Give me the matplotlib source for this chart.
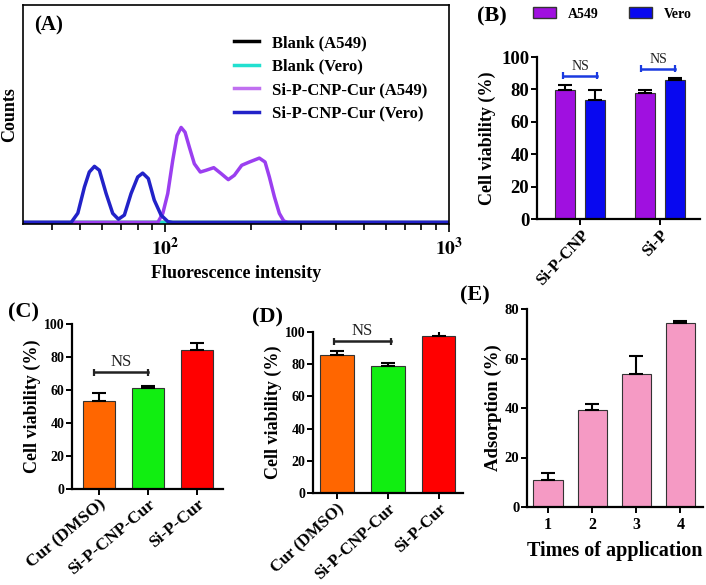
import numpy as np
import matplotlib
matplotlib.use("Agg")
import matplotlib.pyplot as plt
from matplotlib.lines import Line2D
from matplotlib.patches import Patch

plt.rcParams['font.family'] = ['Liberation Serif', 'DejaVu Serif']
plt.rcParams['font.weight'] = 'bold'
plt.rcParams['axes.labelweight'] = 'bold'
plt.rcParams['mathtext.fontset'] = 'stix'

# (A) flow cytometry histograms
vero_x = [31.6, 46.7, 49.3, 52.0, 54.1, 56.4, 58.7, 62.0, 65.4, 68.5, 71.9, 75.9, 80.1,
          83.4, 87.3, 91.6, 96.8, 102.3, 106.4, 1000]
vero_y = [0, 0, 4.3, 16.3, 23.2, 25.8, 24.0, 13.3, 4.2, 1.5, 3.4, 13.3, 20.9,
          22.7, 20.2, 10.3, 3.4, 0.4, 0, 0]
a549_x = [31.6, 94.3, 98.2, 102.2, 106.4, 110.2, 113.9, 117.6, 121.8, 126.8, 133.1, 139.4,
          148.4, 157.5, 167.0, 175.4, 186.2, 198.1, 214.8, 225.0, 233.0, 242.7, 252.6,
          261.8, 270.4, 1000]
a549_y = [0, 0, 4.2, 13.3, 28.5, 40.0, 43.7, 41.5, 34.6, 27.0, 23.2, 24.0,
          25.2, 22.5, 19.7, 21.7, 26.3, 27.8, 29.6, 27.8, 20.9, 11.8, 4.2,
          0.7, 0, 0]
blank_x = [31.6, 1000]
blank_y = [0, 0]

# (B) cell viability, two cell lines
b_groups = ['Si-P-CNP', 'Si-P']
b_a549 = [79.4, 77.7]
b_a549_err = [3.5, 2.1]
b_vero = [73.2, 85.8]
b_vero_err = [6.4, 1.0]

# (C) and (D) cell viability
cd_groups = ['Cur (DMSO)', 'Si-P-CNP-Cur', 'Si-P-Cur']
c_vals = [53.5, 61.2, 84.0]
c_err = [4.7, 1.2, 4.3]
d_vals = [85.7, 78.9, 97.3]
d_err = [2.3, 1.8, 3.7]

# (E) adsorption
e_times = [1, 2, 3, 4]
e_vals = [11.0, 39.1, 53.9, 74.3]
e_err = [2.8, 2.7, 7.1, 1.0]

W, H = 706, 585
fig = plt.figure(figsize=(W / 100, H / 100), dpi=100)


def add_ax(left, top, right, bottom):
    return fig.add_axes([left / W, 1 - bottom / H, (right - left) / W, (bottom - top) / H])


def style_bar_ax(ax, fs=10):
    for s in ['top', 'right']:
        ax.spines[s].set_visible(False)
    for s in ['left', 'bottom']:
        ax.spines[s].set_linewidth(1.6)
    ax.tick_params(width=1.4, length=4, labelsize=fs, pad=1.5)


def up_err(ax, x, vals, errs, color='black'):
    ax.errorbar(x, vals, yerr=[np.zeros(len(vals)), errs], fmt='none',
                ecolor=color, elinewidth=1.5, capsize=5, capthick=1.5, zorder=3)


def ns_bracket(ax, x0, x1, y, color, fs=11):
    ax.errorbar([x0, x1], [y, y], yerr=[[2, 2], [2, 2]], fmt='none', ecolor=color,
                elinewidth=1.6, capsize=0, zorder=4)
    ax.plot([x0, x1], [y, y], color=color, lw=1.8, zorder=4, clip_on=False)
    ax.text((x0 + x1) / 2, y + 1.5, 'NS', ha='center', va='bottom',
            fontsize=fs, fontweight='normal', color='#222222')


# ---- (A)
axA = add_ax(23, 5, 449, 224)
axA.set_xscale('log')
axA.plot(blank_x, blank_y, color='black', lw=2.5)
axA.plot(blank_x, blank_y, color='#22e0d0', lw=2.5)
axA.plot(a549_x, a549_y, color='#9b3ff0', lw=2.5)
axA.plot(vero_x, vero_y, color='#2222c8', lw=2.5)
axA.set_xlim(31.6, 1000)
axA.set_ylim(-0.7, 100)
axA.set_yticks([])
axA.set_xticks([100, 1000])
axA.set_xticklabels([r'$10^2$', r'$10^3$'])
axA.tick_params(axis='x', which='major', length=6, width=1.2, labelsize=14)
axA.tick_params(axis='x', which='minor', length=4, width=1.2)
for s in axA.spines.values():
    s.set_linewidth(1.2)
axA.set_xlabel('Fluorescence intensity', fontsize=13, labelpad=4)
axA.set_ylabel('Counts', fontsize=13)
axA.yaxis.set_label_coords(-0.011, 0.5)
axA.text(0.025, 0.95, '(A)', transform=axA.transAxes, fontsize=15, va='top')
handles = [Line2D([], [], color='black', lw=2.5),
           Line2D([], [], color='#22e0d0', lw=2.5),
           Line2D([], [], color='#c070f0', lw=2.5),
           Line2D([], [], color='#2222c8', lw=2.5)]
labels = ['Blank (A549)', 'Blank (Vero)', 'Si-P-CNP-Cur (A549)', 'Si-P-CNP-Cur (Vero)']
axA.legend(handles, labels, loc='upper left', bbox_to_anchor=(0.46, 0.93), frameon=False,
           fontsize=12, handlelength=1.5, labelspacing=0.45, handletextpad=0.8)

# ---- (B)
axB = add_ax(537, 57, 700, 219)
xb = np.arange(len(b_groups))
off, bw = 0.1875, 0.25
axB.bar(xb - off, b_a549, bw, color='#a010e0', edgecolor='#333333', lw=0.8, zorder=2)
axB.bar(xb + off, b_vero, bw, color='#0808f0', edgecolor='#333333', lw=0.8, zorder=2)
up_err(axB, xb - off, b_a549, b_a549_err)
up_err(axB, xb + off, b_vero, b_vero_err)
axB.set_xlim(-0.54, 1.5)
axB.set_ylim(0, 100)
axB.set_yticks([0, 20, 40, 60, 80, 100])
axB.set_xticks(xb)
axB.set_xticklabels(b_groups, rotation=47, ha='right', rotation_mode='anchor')
style_bar_ax(axB, fs=13.5)
axB.tick_params(axis='x', labelsize=12)
axB.set_ylabel('Cell viability (%)', fontsize=13)
ns_bracket(axB, -0.21, 0.21, 88.5, '#1a3ae0', fs=10)
ns_bracket(axB, 0.76, 1.19, 92.8, '#1a3ae0', fs=10)
fig.text(477 / W, 1 - 16 / H, '(B)', fontsize=16, va='center')
fig.legend([Patch(facecolor='#a010e0', edgecolor='#333333'),
            Patch(facecolor='#0808f0', edgecolor='#333333')], ['A549', 'Vero'],
           loc='center', bbox_to_anchor=(612 / W, 1 - 14 / H), ncol=2, frameon=False,
           fontsize=10, handlelength=1.7, handleheight=0.8, columnspacing=2.2)

# ---- (C)
cd_colors = ['#ff6600', '#11ee11', '#ff0000']
axC = add_ax(72, 324, 223, 489)
xc = np.arange(len(cd_groups))
axC.bar(xc, c_vals, 0.67, color=cd_colors, edgecolor='#333333', lw=0.8, zorder=2)
up_err(axC, xc, c_vals, c_err)
axC.set_xlim(-0.55, 2.53)
axC.set_ylim(0, 100)
axC.set_yticks([0, 20, 40, 60, 80, 100])
axC.set_xticks(xc)
axC.set_xticklabels(cd_groups, rotation=40, ha='right', rotation_mode='anchor')
style_bar_ax(axC, fs=10)
axC.tick_params(axis='x', labelsize=12.5)
axC.set_ylabel('Cell viability (%)', fontsize=13, labelpad=2)
ns_bracket(axC, -0.1, 1.0, 70.7, '#222222', fs=12)
fig.text(8 / W, 1 - 312 / H, '(C)', fontsize=16, va='center')

# ---- (D)
axD = add_ax(313, 332, 463, 493)
axD.bar(xc, d_vals, 0.66, color=cd_colors, edgecolor='#333333', lw=0.8, zorder=2)
up_err(axD, xc, d_vals, d_err)
axD.set_xlim(-0.47, 2.48)
axD.set_ylim(0, 100)
axD.set_yticks([0, 20, 40, 60, 80, 100])
axD.set_xticks(xc)
axD.set_xticklabels(cd_groups, rotation=43, ha='right', rotation_mode='anchor')
style_bar_ax(axD, fs=10)
axD.tick_params(axis='x', labelsize=12)
axD.set_ylabel('Cell viability (%)', fontsize=13, labelpad=2)
ns_bracket(axD, -0.05, 1.06, 94.2, '#222222', fs=12)
fig.text(252 / W, 1 - 317 / H, '(D)', fontsize=16, va='center')

# ---- (E)
axE = add_ax(527, 309, 703, 507)
axE.bar(e_times, e_vals, 0.66, color='#f59ac4', edgecolor='#333333', lw=0.8, zorder=2)
up_err(axE, e_times, e_vals, e_err)
axE.set_xlim(0.525, 4.51)
axE.set_ylim(0, 80)
axE.set_yticks([0, 20, 40, 60, 80])
axE.set_xticks(e_times)
style_bar_ax(axE, fs=10.5)
axE.tick_params(axis='x', labelsize=11.5, pad=3)
axE.set_ylabel('Adsorption (%)', fontsize=13.5, labelpad=2)
axE.set_xlabel('Times of application', fontsize=14.5, labelpad=6)
fig.text(460 / W, 1 - 295 / H, '(E)', fontsize=16, va='center')

fig.savefig('out.png', dpi=100)
